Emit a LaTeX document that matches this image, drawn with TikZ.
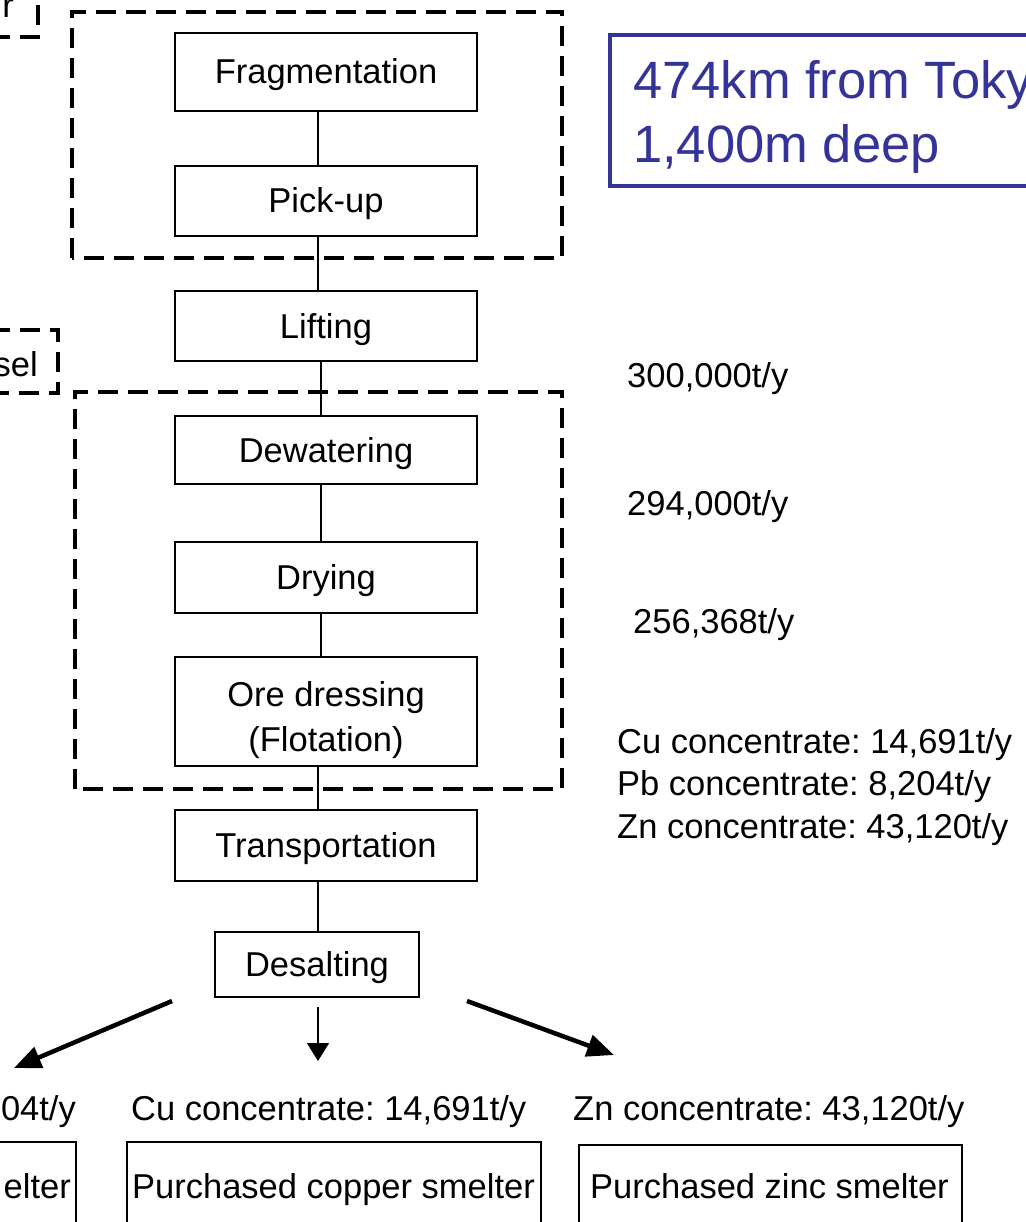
\documentclass[tikz,border=0pt]{standalone}
\usepackage{fontspec}
\setmainfont{Liberation Sans}
\usetikzlibrary{arrows.meta}
\definecolor{navy}{RGB}{51,51,153}
\frenchspacing
\begin{document}
\begin{tikzpicture}[x=1pt,y=-1pt,
  proc/.style={draw,line width=2.5pt,rectangle,inner sep=0pt,align=center,text height=24pt,text depth=0pt,font=\fontsize{34.5}{45}\selectfont},
  lbl/.style={inner sep=0pt,anchor=base west,font=\fontsize{34.5}{40}\selectfont},
  grp/.style={draw,line width=4.2pt,dash pattern=on 20pt off 10pt},
  conn/.style={line width=2.2pt},
  bigarrow/.style={line width=4.5pt,-{Triangle[length=27pt,width=22pt]}},
  thinarrow/.style={line width=1.5pt,-{Triangle[length=18pt,width=22pt]}}]
\useasboundingbox (0,0) rectangle (1025,1222);

% group (dashed) boxes
\draw[grp] (72,258) -- (72,12) -- (562,12) -- (562,258) -- (72,258);
\draw[grp] (75,789) -- (75,392) -- (562,392) -- (562,789) -- (75,789);
\draw[grp] (-10,37) -- (38,37) -- (38,-10);
\draw[grp] (-10,330) -- (58,330) -- (58,393) -- (-10,393);
\node[lbl,anchor=base east] (rtxt) at (14,18) {r};
\node[lbl,anchor=base east] (seltxt) at (38,376) {sel};

% process boxes
\node[proc,minimum width=302pt,minimum height=78pt] (frag) at (326,72) {Fragmentation};
\node[proc,minimum width=302pt,minimum height=70pt] (pick) at (326,201) {Pick-up};
\node[proc,minimum width=302pt,minimum height=70pt] (lift) at (326,326) {Lifting};
\node[proc,minimum width=302pt,minimum height=68pt] (dewat) at (326,450) {Dewatering};
\node[proc,minimum width=302pt,minimum height=71pt] (dry) at (326,577.5) {Drying};
\node[proc,minimum width=302pt,minimum height=109pt,text height={},text depth={}] (ore) at (326,711.5) {\rule{0pt}{43pt}Ore dressing\\(Flotation)};
\node[proc,minimum width=302pt,minimum height=71pt] (trans) at (326,845.5) {Transportation};
\node[proc,minimum width=204pt,minimum height=65pt] (desalt) at (317,964.5) {Desalting};

% connectors
\draw[conn] ([xshift=-8pt]frag.south) -- ([xshift=-8pt]pick.north);
\draw[conn] ([xshift=-8pt]pick.south) -- ([xshift=-8pt]lift.north);
\draw[conn] ([xshift=-5pt]lift.south) -- ([xshift=-5pt]dewat.north);
\draw[conn] ([xshift=-5pt]dewat.south) -- ([xshift=-5pt]dry.north);
\draw[conn] ([xshift=-5pt]dry.south) -- ([xshift=-5pt]ore.north);
\draw[conn] ([xshift=-8pt]ore.south) -- ([xshift=-8pt]trans.north);
\draw[conn] ([xshift=-8pt]trans.south) -- ([xshift=1pt]desalt.north);

% blue box
\draw[navy,line width=3.5pt] (1035,35) -- (610,35) -- (610,186) -- (1035,186);
\node[lbl,text=navy,font=\fontsize{52.5}{60}\selectfont] (dist) at (633,99) {474km from Toky};
\node[lbl,text=navy,font=\fontsize{52.5}{60}\selectfont] (depth) at (633,163) {1,400m deep};

% right-side quantities
\node[lbl] (q1) at (627,387) {300,000t/y};
\node[lbl] (q2) at (627,515) {294,000t/y};
\node[lbl] (q3) at (633,633) {256,368t/y};
\node[lbl] (q4) at (617,753) {Cu concentrate: 14,691t/y};
\node[lbl] (q5) at (617,795) {Pb concentrate: 8,204t/y};
\node[lbl] (q6) at (617,838) {Zn concentrate: 43,120t/y};

% arrows from desalting
\coordinate (la0) at (172,1001);
\coordinate (la1) at (14,1068);
\coordinate (ma0) at (318,1007);
\coordinate (ma1) at (318,1061);
\coordinate (ra0) at (467,1001);
\coordinate (ra1) at (614,1055);
\draw[bigarrow] (la0) -- (la1);
\draw[thinarrow] (ma0) -- (ma1);
\draw[bigarrow] (ra0) -- (ra1);

% bottom concentrate labels
\node[lbl,anchor=base east] (b1) at (76,1120) {04t/y};
\node[lbl] (b2) at (131,1120) {Cu concentrate: 14,691t/y};
\node[lbl] (b3) at (573,1120) {Zn concentrate: 43,120t/y};

% smelters
\draw[line width=2.5pt] (-10,1142) -- (76,1142) -- (76,1240);
\node[lbl,anchor=base east] (s1) at (71,1198) {elter};
\node[proc,minimum width=414pt,minimum height=100pt] (cus) at (334,1192) {};
\node[lbl] (cutxt) at (132,1198) {Purchased copper smelter};
\node[proc,minimum width=383pt,minimum height=100pt] (zns) at (770.5,1195) {};
\node[lbl] (zntxt) at (590,1198) {Purchased zinc smelter};
\end{tikzpicture}
\end{document}
